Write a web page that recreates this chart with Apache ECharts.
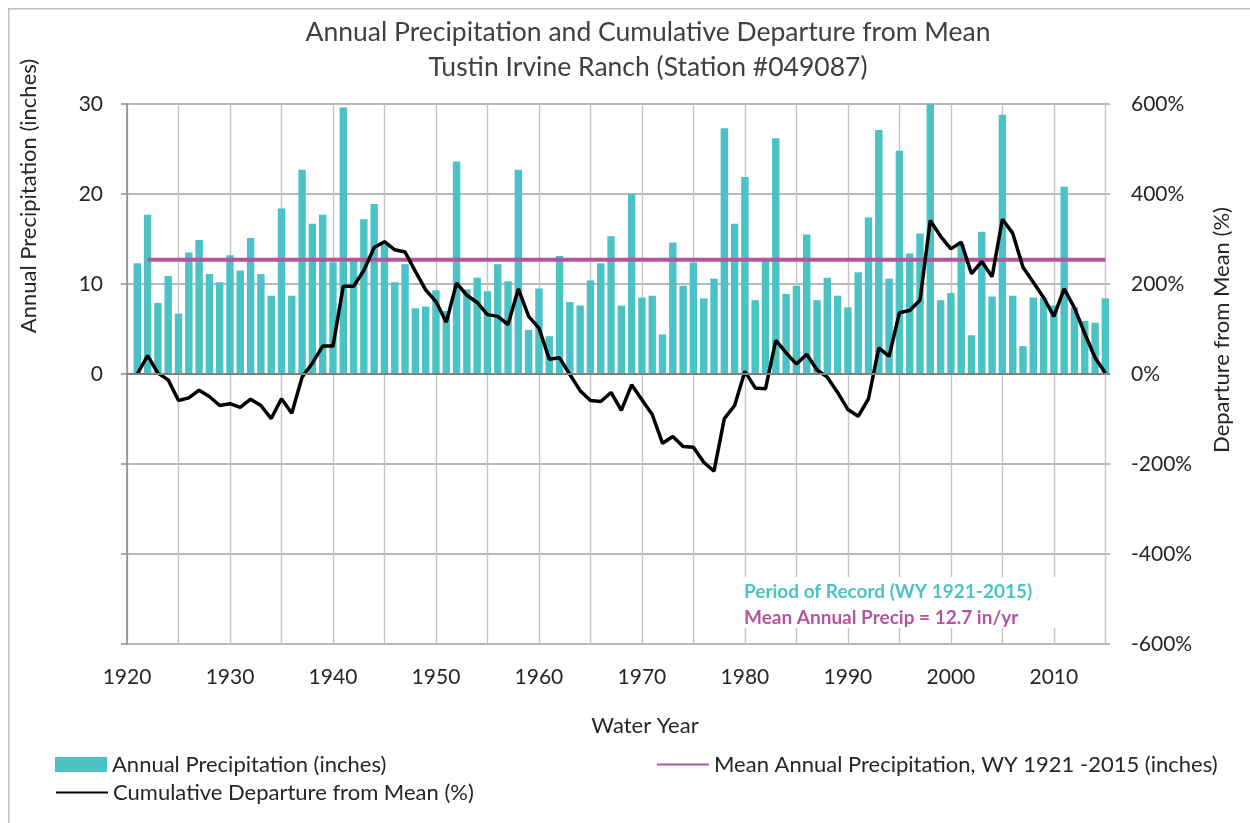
<!DOCTYPE html>
<html>
<head>
<meta charset="utf-8">
<title>Annual Precipitation and Cumulative Departure from Mean</title>
<script src="https://cdn.jsdelivr.net/npm/echarts@6.0.0/dist/echarts.min.js"></script>
<style>
  html, body { margin: 0; padding: 0; background: #fff; }
  #chart { width: 1250px; height: 823px; }
</style>
</head>
<body>
<div id="chart"></div>
<script>
// 数据：Tustin Irvine Ranch 年降水量（英寸）与累计距平（%）
const firstYear = 1921
const meanPrecip = 12.7

// annual precipitation, WY 1921 - 2015 (one row per decade)
const precip = [
  12.3, 17.7, 7.9, 10.9, 6.7, 13.5, 14.9, 11.1, 10.2, 13.2,   // 1921-1930
  11.5, 15.1, 11.1, 8.7, 18.4, 8.7, 22.7, 16.7, 17.7, 12.4,   // 1931-1940
  29.6, 12.8, 17.2, 18.9, 14.4, 10.2, 12.2, 7.3, 7.5, 9.3,    // 1941-1950
  7.0, 23.6, 9.4, 10.7, 9.2, 12.2, 10.3, 22.7, 4.9, 9.5,      // 1951-1960
  4.2, 13.1, 8.0, 7.6, 10.4, 12.3, 15.3, 7.6, 20.0, 8.5,      // 1961-1970
  8.7, 4.4, 14.6, 9.8, 12.4, 8.4, 10.6, 27.3, 16.7, 21.9,     // 1971-1980
  8.2, 12.6, 26.2, 8.9, 9.8, 15.5, 8.2, 10.7, 8.7, 7.4,       // 1981-1990
  11.3, 17.4, 27.1, 10.6, 24.8, 13.4, 15.6, 34.9, 8.2, 9.0,   // 1991-2000
  14.4, 4.3, 15.8, 8.6, 28.8, 8.7, 3.1, 8.5, 8.5, 7.6,        // 2001-2010
  20.8, 7.4, 5.9, 5.7, 8.4                                    // 2011-2015
]

// cumulative departure from mean, percent
const departure = [
  0, 41, 2, -13, -59, -53, -36, -50, -70, -66,                // 1921-1930
  -74, -56, -70, -99, -55, -87, -7, 24, 62, 62,               // 1931-1940
  195, 195, 230, 281, 294, 276, 271, 228, 187, 161,           // 1941-1950
  115, 202, 175, 159, 132, 128, 110, 189, 128, 102,           // 1951-1960
  33, 36, -1, -37, -59, -61, -41, -81, -24, -57,              // 1961-1970
  -90, -154, -139, -161, -163, -196, -216, -99, -70, 6,       // 1971-1980
  -31, -33, 75, 47, 22, 44, 9, -7, -41, -79,                  // 1981-1990
  -94, -55, 58, 39, 136, 141, 164, 341, 306, 278,             // 1991-2000
  293, 223, 250, 216, 344, 313, 237, 204, 170, 128,           // 2001-2010
  189, 147, 90, 36, 2                                         // 2011-2015
]

// mean line runs from WY 1922 to WY 2015
const meanYears = [1922, 2015]

const years = precip.map((_, i) => firstYear + i)

const TEAL = '#4BC2C5'
const MAGENTA = '#B4559F'
const GRID = '#c4c4c4'
const GRID_H = '#a0a0a0'
const FONT = 'Lato'
const TEXT = '#262626'

const legendBase = {
  padding: 0,
  itemWidth: 52,
  itemHeight: 15,
  textStyle: { fontFamily: FONT, fontSize: 22, color: TEXT, lineHeight: 22 }
}

const option = {
  animation: false,
  backgroundColor: '#fff',
  textStyle: { fontFamily: FONT },
  title: {
    text: 'Annual Precipitation and Cumulative Departure from Mean\nTustin Irvine Ranch (Station #049087)',
    left: 648,
    textAlign: 'center',
    top: 15,
    padding: 0,
    textStyle: { fontFamily: FONT, fontSize: 26.5, fontWeight: 'normal', color: '#404040', lineHeight: 35 }
  },
  grid: { left: 127, right: 140, top: 104, bottom: 179 },
  legend: [
    Object.assign({}, legendBase, {
      left: 55, top: 753.5,
      data: [{ name: 'Annual Precipitation (inches)', icon: 'rect' }]
    }),
    Object.assign({}, legendBase, {
      left: 55, top: 781.5,
      itemStyle: { opacity: 0 },   // 图例只画线，不画圆点
      data: [{ name: 'Cumulative Departure from Mean (%)' }]
    }),
    Object.assign({}, legendBase, {
      left: 656, top: 753.5,
      itemStyle: { opacity: 0 },
      data: [{ name: 'Mean Annual Precipitation, WY 1921 -2015 (inches)' }]
    })
  ],
  xAxis: {
    type: 'value',
    min: 1920,
    max: 2015.45,
    interval: 5,
    axisLine: { show: false },
    axisTick: { show: false },
    axisLabel: {
      margin: 23, fontSize: 21, color: TEXT, fontFamily: FONT,
      formatter: v => (v % 10 === 0 ? String(v) : '')
    },
    splitLine: { show: true, showMaxLine: false, lineStyle: { color: GRID, width: 1.4 } }
  },
  yAxis: [
    {
      type: 'value', min: -30, max: 30, interval: 10,
      axisLine: { show: true, onZero: false, lineStyle: { color: '#8c8c8c', width: 1.5 } },
      axisTick: { show: true, length: 6, lineStyle: { color: '#8c8c8c', width: 1.5 } },
      axisLabel: {
        margin: 24, fontSize: 21, color: TEXT, fontFamily: FONT,
        formatter: v => (v >= 0 ? String(v) : '')
      },
      splitLine: { show: true, lineStyle: { color: GRID_H, width: 1.5, opacity: 1, type: 'solid' } }
    },
    {
      type: 'value', min: -600, max: 600, interval: 200, position: 'right',
      axisLine: { show: false },
      axisTick: { show: false },
      axisLabel: { margin: 21, fontSize: 21, color: TEXT, fontFamily: FONT, formatter: '{value}%' },
      splitLine: { show: false }
    }
  ],
  series: [
    {
      name: 'Annual Precipitation (inches)',
      type: 'bar',
      yAxisIndex: 0,
      barWidth: 7.4,
      clip: true,
      itemStyle: { color: TEAL },
      data: years.map((y, i) => [y, precip[i]])
    },
    {
      name: 'Mean Annual Precipitation, WY 1921 -2015 (inches)',
      type: 'line',
      yAxisIndex: 0,
      symbol: 'none',
      lineStyle: { color: MAGENTA, width: 4 },
      itemStyle: { color: MAGENTA },
      data: meanYears.map(y => [y, meanPrecip]),
      // 零线
      markLine: {
        silent: true,
        symbol: 'none',
        label: { show: false },
        lineStyle: { color: '#7f7f7f', width: 2, opacity: 1, type: 'solid' },
        data: [{ yAxis: 0 }]
      }
    },
    {
      name: 'Cumulative Departure from Mean (%)',
      type: 'line',
      yAxisIndex: 1,
      symbol: 'none',
      z: 4,
      lineStyle: { color: '#000', width: 3.5 },
      itemStyle: { color: '#000' },
      data: years.map((y, i) => [y, departure[i]])
    }
  ],
  graphic: [
    // 外框（只露出上、左两边）
    { type: 'rect', left: 8, top: 8, z: -10, silent: true,
      shape: { width: 1400, height: 1000 }, style: { fill: 'transparent', stroke: '#c0c0c0', lineWidth: 1.5 } },
    // 轴标题
    { type: 'text', x: 29, y: 196, rotation: Math.PI / 2, z: 100,
      style: { text: 'Annual Precipitation (inches)', fontFamily: FONT, fontSize: 22, fill: TEXT, align: 'center', verticalAlign: 'middle' } },
    { type: 'text', x: 1222, y: 330, rotation: Math.PI / 2, z: 100,
      style: { text: 'Departure from Mean (%)', fontFamily: FONT, fontSize: 22, fill: TEXT, align: 'center', verticalAlign: 'middle' } },
    { type: 'text', x: 645, y: 726, z: 100,
      style: { text: 'Water Year', fontFamily: FONT, fontSize: 22, fill: TEXT, align: 'center', verticalAlign: 'middle' } },
    // 注释框
    { type: 'rect', left: 740, top: 577, z: 90, silent: true,
      shape: { width: 318, height: 51 }, style: { fill: '#fff' } },
    { type: 'text', x: 744, y: 592, z: 100,
      style: { text: 'Period of Record (WY ' + firstYear + '-' + years[years.length - 1] + ')', fontFamily: FONT, fontSize: 19, fontWeight: 'bold', fill: TEAL, align: 'left', verticalAlign: 'middle' } },
    { type: 'text', x: 744, y: 618, z: 100,
      style: { text: 'Mean Annual Precip = ' + meanPrecip + ' in/yr', fontFamily: FONT, fontSize: 19, fontWeight: 'bold', fill: MAGENTA, align: 'left', verticalAlign: 'middle' } }
  ]
}

const chart = echarts.init(document.getElementById('chart'), null, { renderer: 'canvas' })
chart.setOption(option)
window.addEventListener('resize', () => chart.resize())
</script>
</body>
</html>
